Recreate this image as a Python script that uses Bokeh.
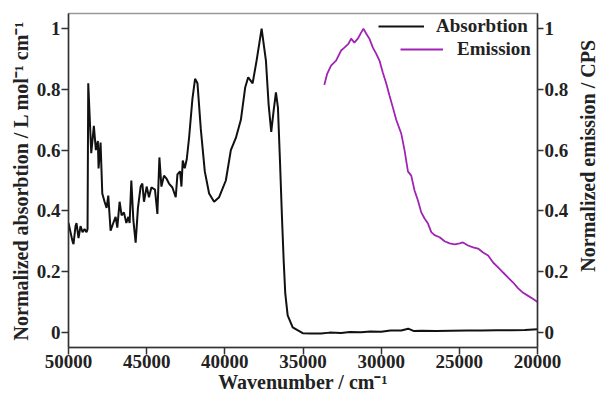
import math
from bokeh.plotting import figure
from bokeh.layouts import row
from bokeh.models import Range1d, LinearAxis, FixedTicker, Legend, LegendItem, BasicTickFormatter
from bokeh.core.properties import value
from bokeh.embed import file_html
from bokeh.resources import INLINE

# Absorption spectrum (normalized), wavenumber in cm^-1
abs_wn = [50000, 49872, 49744, 49680, 49551, 49487, 49359, 49231, 49103, 48974, 48846, 48782,
          48737, 48545, 48378, 48250, 48122, 48077, 47949, 47840, 47692, 47564, 47455, 47308,
          47135, 46987, 46878, 46731, 46603, 46455, 46301, 46173, 46090, 45981, 45853, 45705,
          45558, 45385, 45276, 45173, 45000, 44853, 44699, 44468, 44314, 44186, 44058, 43891,
          43718, 43571, 43353, 43141, 43032, 42865, 42776, 42692, 42564, 42436, 42288, 42071,
          41904, 41750, 41538, 41282, 41006, 40686, 40365, 39936, 39615, 39295, 38974, 38699,
          38506, 38224, 37968, 37647, 37372, 37199, 37032, 36878, 36731, 36603, 36474, 36346,
          36237, 36135, 35981, 35660, 35019, 34500, 33846, 33300, 32564, 32000, 31282, 30700,
          30000, 29400, 28718, 28269, 27900, 27436, 26500, 25513, 24500, 23590, 22600, 21667,
          20800, 20000]
abs_val = [0.36, 0.33, 0.30, 0.29, 0.35, 0.36, 0.31, 0.35, 0.33, 0.34, 0.33, 0.34,
           0.82, 0.59, 0.68, 0.60, 0.63, 0.54, 0.625, 0.457, 0.43, 0.41, 0.45, 0.335,
           0.36, 0.38, 0.345, 0.43, 0.385, 0.395, 0.36, 0.38, 0.36, 0.50, 0.37, 0.295,
           0.41, 0.48, 0.49, 0.43, 0.48, 0.445, 0.477, 0.47, 0.39, 0.576, 0.48, 0.516,
           0.505, 0.49, 0.477, 0.445, 0.52, 0.53, 0.48, 0.566, 0.54, 0.57, 0.64, 0.77,
           0.835, 0.82, 0.67, 0.53, 0.457, 0.43, 0.445, 0.50, 0.60, 0.64, 0.70, 0.806,
           0.84, 0.82, 0.895, 1.0, 0.895, 0.75, 0.66, 0.73, 0.79, 0.74, 0.566, 0.38,
           0.237, 0.128, 0.056, 0.016, -0.003, -0.004, -0.004, -0.001, -0.002, 0.001, 0.0, 0.003,
           0.002, 0.006, 0.006, 0.012, 0.004, 0.005, 0.004, 0.005, 0.006, 0.006, 0.007, 0.007,
           0.008, 0.01]

# Emission spectrum (normalized)
em_wn = [33635, 33462, 33205, 32885, 32564, 32353, 32096, 31923, 31712, 31494, 31282, 31135,
         30962, 30750, 30532, 30321, 30109, 29891, 29679, 29468, 29250, 29038, 28718, 28506,
         28288, 28077, 27865, 27647, 27436, 27224, 27006, 26795, 26584, 26263, 25942, 25622,
         25301, 24981, 24763, 24442, 24122, 23801, 23481, 23160, 22840, 22519, 22199, 21878,
         21558, 21237, 20917, 20596, 20276, 20000]
em_val = [0.815, 0.85, 0.878, 0.895, 0.928, 0.9375, 0.95, 0.967, 0.954, 0.967, 0.987, 1.0,
          0.984, 0.967, 0.9375, 0.918, 0.895, 0.855, 0.82, 0.78, 0.74, 0.70, 0.655, 0.60,
          0.53, 0.516, 0.467, 0.434, 0.395, 0.375, 0.358, 0.33, 0.32, 0.313, 0.30, 0.293,
          0.29, 0.293, 0.296, 0.286, 0.28, 0.276, 0.263, 0.253, 0.23, 0.214, 0.197, 0.18,
          0.164, 0.145, 0.13, 0.12, 0.11, 0.10]

x_ticks = [50000, 45000, 40000, 35000, 30000, 25000, 20000]
y_ticks = [0, 0.2, 0.4, 0.6, 0.8, 1]
y_tick_labels = ["0", "0.2", "0.4", "0.6", "0.8", "1"]

x_title = "Wavenumber / cm\u207b\u00b9"
y_title = "Normalized absorbtion / L mol\u207b\u00b9 cm\u207b\u00b9"
y2_title = "Normalized emission / CPS"

FONT = "Liberation Serif"
TICK_SIZE = "19px"
LABEL_SIZE = "20px"
TEXT_COLOR = "#222222"

p = figure(width=572, height=399, output_backend="svg", toolbar_location=None,
           x_range=Range1d(50000, 20000), y_range=Range1d(-0.05, 1.05),
           min_border_left=68, min_border_right=35, min_border_top=13, min_border_bottom=52)
p.extra_y_ranges = {"right": Range1d(-0.05, 1.05)}
p.grid.visible = False
p.outline_line_color = "#999999"
p.outline_line_width = 1.5

r_abs = p.line(abs_wn, abs_val, line_color="#111111", line_width=2)
r_em = p.line(em_wn, em_val, line_color="#a024b4", line_width=1.8, y_range_name="right")

right_axis = LinearAxis(y_range_name="right")
p.add_layout(right_axis, "right")

overrides = {t: l for t, l in zip(y_ticks, y_tick_labels)}

for ax in [p.xaxis[0], p.yaxis[0], right_axis]:
    ax.major_label_text_font = FONT
    ax.major_label_text_font_style = "bold"
    ax.major_label_text_font_size = TICK_SIZE
    ax.major_label_text_color = TEXT_COLOR
    ax.axis_label_text_font = FONT
    ax.axis_label_text_font_style = "bold"
    ax.axis_label_text_font_size = LABEL_SIZE
    ax.axis_label_text_color = TEXT_COLOR
    ax.axis_line_color = "#333333"
    ax.axis_line_width = 1.5
    ax.major_tick_line_color = "#333333"
    ax.major_tick_line_width = 1.5
    ax.major_tick_in = 0
    ax.major_tick_out = 7
    ax.minor_tick_line_color = None
    ax.major_label_standoff = 1
    ax.axis_label_standoff = 2

p.xaxis[0].ticker = FixedTicker(ticks=x_ticks)
p.xaxis[0].formatter = BasicTickFormatter(use_scientific=False)
p.xaxis[0].axis_label = x_title
p.xaxis[0].major_label_standoff = 0
p.xaxis[0].axis_label_standoff = 0
p.yaxis[0].ticker = FixedTicker(ticks=y_ticks)
p.yaxis[0].major_label_overrides = overrides
p.yaxis[0].axis_label = y_title
right_axis.ticker = FixedTicker(ticks=y_ticks)
right_axis.major_label_overrides = overrides
right_axis.major_tick_out = 6

def make_legend(label, renderer, loc, gw, standoff):
    lg = Legend(items=[LegendItem(label=label, renderers=[renderer])], location=loc)
    lg.glyph_width = gw
    lg.glyph_height = 20
    lg.label_height = 20
    lg.label_standoff = standoff
    lg.padding = 0
    lg.margin = 0
    lg.spacing = 0
    lg.background_fill_alpha = 0
    lg.border_line_alpha = 0
    lg.label_text_font = FONT
    lg.label_text_font_style = "bold"
    lg.label_text_font_size = TICK_SIZE
    lg.label_text_color = TEXT_COLOR
    return lg

p.add_layout(make_legend("Absorbtion", r_abs, (310, 310), 46, 12))
p.add_layout(make_legend("Emission", r_em, (332, 287), 43, 14))

# Narrow strip holding the right-axis title, reading bottom-to-top
p2 = figure(width=25, height=399, output_backend="svg", toolbar_location=None,
            x_range=Range1d(0, 25), y_range=Range1d(0, 399), min_border=0,
            x_axis_location=None, y_axis_location=None)
p2.grid.visible = False
p2.outline_line_color = None
p2.text(x=[15], y=[229], text=[y2_title], angle=math.pi / 2,
        text_align="center", text_baseline="middle", text_font=value(FONT),
        text_font_style="bold", text_font_size=LABEL_SIZE, text_color=TEXT_COLOR)

layout = row(p, p2)
open("out.html", "w").write(file_html(layout, INLINE))
